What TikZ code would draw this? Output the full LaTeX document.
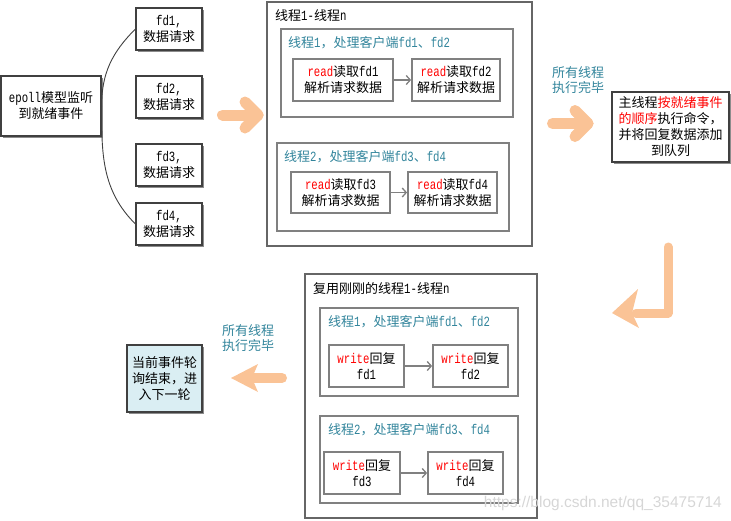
\documentclass[tikz,border=0pt]{standalone}
\usepackage{fontspec}
\setmainfont{Noto Sans CJK SC}
\newfontfamily\mono[FakeStretch=0.76,Scale=1.08]{Liberation Mono}
\newfontfamily\wmfont{Liberation Sans}
\usetikzlibrary{arrows.meta,shadows}
\definecolor{peach}{RGB}{250,195,150}
\definecolor{tealtxt}{RGB}{49,132,155}
\definecolor{lblue}{RGB}{218,238,243}
\newcommand\m[1]{{\mono #1}}
\newcommand\rd[1]{\textcolor{red}{#1}}
\begin{document}
\begin{tikzpicture}[x=1pt,y=-1pt,
  font=\fontsize{13}{16}\selectfont,
  plainbox/.style={draw=black!75, line width=1.2pt, fill=white, align=center, inner sep=0pt},
  groupbox/.style={draw=black!60, line width=1.5pt, inner sep=0pt},
  threadbox/.style={draw=black!50, line width=1.8pt, inner sep=0pt},
  taskbox/.style={draw=black!50, line width=1.8pt, fill=white, align=center, inner sep=0pt},
  shadowed/.style={drop shadow={shadow xshift=1.5pt, shadow yshift=-1.5pt, fill=black!45, opacity=1}},
  conn/.style={draw=black!50, line width=1.3pt, -{Straight Barb[length=4pt,width=9pt]}},
  fat/.style={draw=peach, line width=#1, line cap=round, line join=round},
  title/.style={anchor=west, inner sep=0pt},
  note/.style={align=center, inner sep=0pt, text=tealtxt, font=\fontsize{13}{15}\selectfont}
]
\useasboundingbox (0,0) rectangle (731,520);

% left column
\node[plainbox, shadowed, minimum width=100pt, minimum height=60pt] (epoll) at (51,106) {\m{epoll}模型监听\\到就绪事件};
\node[plainbox, shadowed, minimum width=66pt, minimum height=42pt] (fd1) at (169,29) {\m{fd1,}\\数据请求};
\node[plainbox, shadowed, minimum width=66pt, minimum height=42pt] (fd2) at (169,97) {\m{fd2,}\\数据请求};
\node[plainbox, shadowed, minimum width=66pt, minimum height=42pt] (fd3) at (169,165) {\m{fd3,}\\数据请求};
\node[plainbox, shadowed, minimum width=66pt, minimum height=42pt] (fd4) at (169,224) {\m{fd4,}\\数据请求};
\draw[black!75, line width=0.9pt] (epoll.east) to[out=90,in=225] (fd1.west);
\draw[black!75, line width=0.9pt] (epoll.east) to[out=-90,in=135] (fd4.west);

% arrow 1
\draw[fat=11pt] (222.5,115) -- (258,115);
\draw[fat=11pt] (245,102) -- (258,115) -- (245,128);

% group 1
\node[groupbox, minimum width=265pt, minimum height=244pt] (g1) at (399.5,124) {};
\node[title] (g1t) at (275,16) {线程\m{1-}线程\m{n}};
\node[threadbox, minimum width=232pt, minimum height=88pt] (tA) at (397,73) {};
\node[title, text=tealtxt] (tAt) at (288,43) {线程\m{1}，处理客户端\m{fd1}、\m{fd2}};
\node[taskbox, minimum width=100pt, minimum height=42pt] (rA1) at (343,80) {\rd{\m{read}}读取\m{fd1}\\解析请求数据};
\node[taskbox, minimum width=88pt, minimum height=42pt] (rA2) at (456,80) {\rd{\m{read}}读取\m{fd2}\\解析请求数据};
\draw[conn] (rA1) -- (rA2);
\node[threadbox, minimum width=232pt, minimum height=88pt] (tB) at (393,187) {};
\node[title, text=tealtxt] (tBt) at (284,157) {线程\m{2}，处理客户端\m{fd3}、\m{fd4}};
\node[taskbox, minimum width=99pt, minimum height=41pt] (rB1) at (340.5,192.5) {\rd{\m{read}}读取\m{fd3}\\解析请求数据};
\node[taskbox, minimum width=89pt, minimum height=41pt] (rB2) at (452.5,192.5) {\rd{\m{read}}读取\m{fd4}\\解析请求数据};
\draw[conn] (rB1) -- (rB2);

% arrow 2 and main thread
\node[note] (n1) at (578,80) {所有线程\\执行完毕};
\draw[fat=11pt] (552.5,123.5) -- (588,123.5);
\draw[fat=11pt] (575,110.5) -- (588,123.5) -- (575,136.5);
\node[plainbox, shadowed, minimum width=117pt, minimum height=70pt] (mainbox) at (670.5,127)
  {主线程\rd{按就绪事件}\\\rd{的顺序}执行命令，\\并将回复数据添加\\到队列};

% L arrow
\draw[fat=9pt] (668,247) -- (668,313) -- (636,313);
\fill[peach] (612,313) -- (638,289) -- (632,313) -- (639,328) -- cycle;

% group 2
\node[groupbox, minimum width=232pt, minimum height=244pt] (g2) at (421,396) {};
\node[title] (g2t) at (313,289) {复用刚刚的线程\m{1-}线程\m{n}};
\node[threadbox, minimum width=198pt, minimum height=88pt] (tC) at (419,352) {};
\node[title, text=tealtxt] (tCt) at (328,322) {线程\m{1}，处理客户端\m{fd1}、\m{fd2}};
\node[taskbox, minimum width=75pt, minimum height=42pt] (wC1) at (366.5,366) {\rd{\m{write}}回复\\\m{fd1}};
\node[taskbox, minimum width=75pt, minimum height=42pt] (wC2) at (470.5,366) {\rd{\m{write}}回复\\\m{fd2}};
\draw[conn] (wC1) -- (wC2);
\node[threadbox, minimum width=198pt, minimum height=87pt] (tD) at (419,459.5) {};
\node[title, text=tealtxt] (tDt) at (328,430) {线程\m{2}，处理客户端\m{fd3}、\m{fd4}};
\node[taskbox, minimum width=76pt, minimum height=42pt] (wD1) at (362,473) {\rd{\m{write}}回复\\\m{fd3}};
\node[taskbox, minimum width=75pt, minimum height=42pt] (wD2) at (465.5,473) {\rd{\m{write}}回复\\\m{fd4}};
\draw[conn] (wD1) -- (wD2);

% left arrow and end box
\node[note] (n2) at (248,338) {所有线程\\执行完毕};
\draw[fat=10pt] (282,378) -- (254,378);
\fill[peach] (231,378) -- (258,364) -- (252,378) -- (258,392) -- cycle;
\node[plainbox, shadowed, fill=lblue, minimum width=75pt, minimum height=67pt] (endbox) at (164.5,378.5)
  {当前事件轮\\询结束，进\\入下一轮};

% watermark
\node[anchor=base east, inner sep=0pt, text=black!16, font=\wmfont\fontsize{15.5}{18}\selectfont] (wm) at (722,507) {https://blog.csdn.net/qq\_35475714};
\end{tikzpicture}
\end{document}
